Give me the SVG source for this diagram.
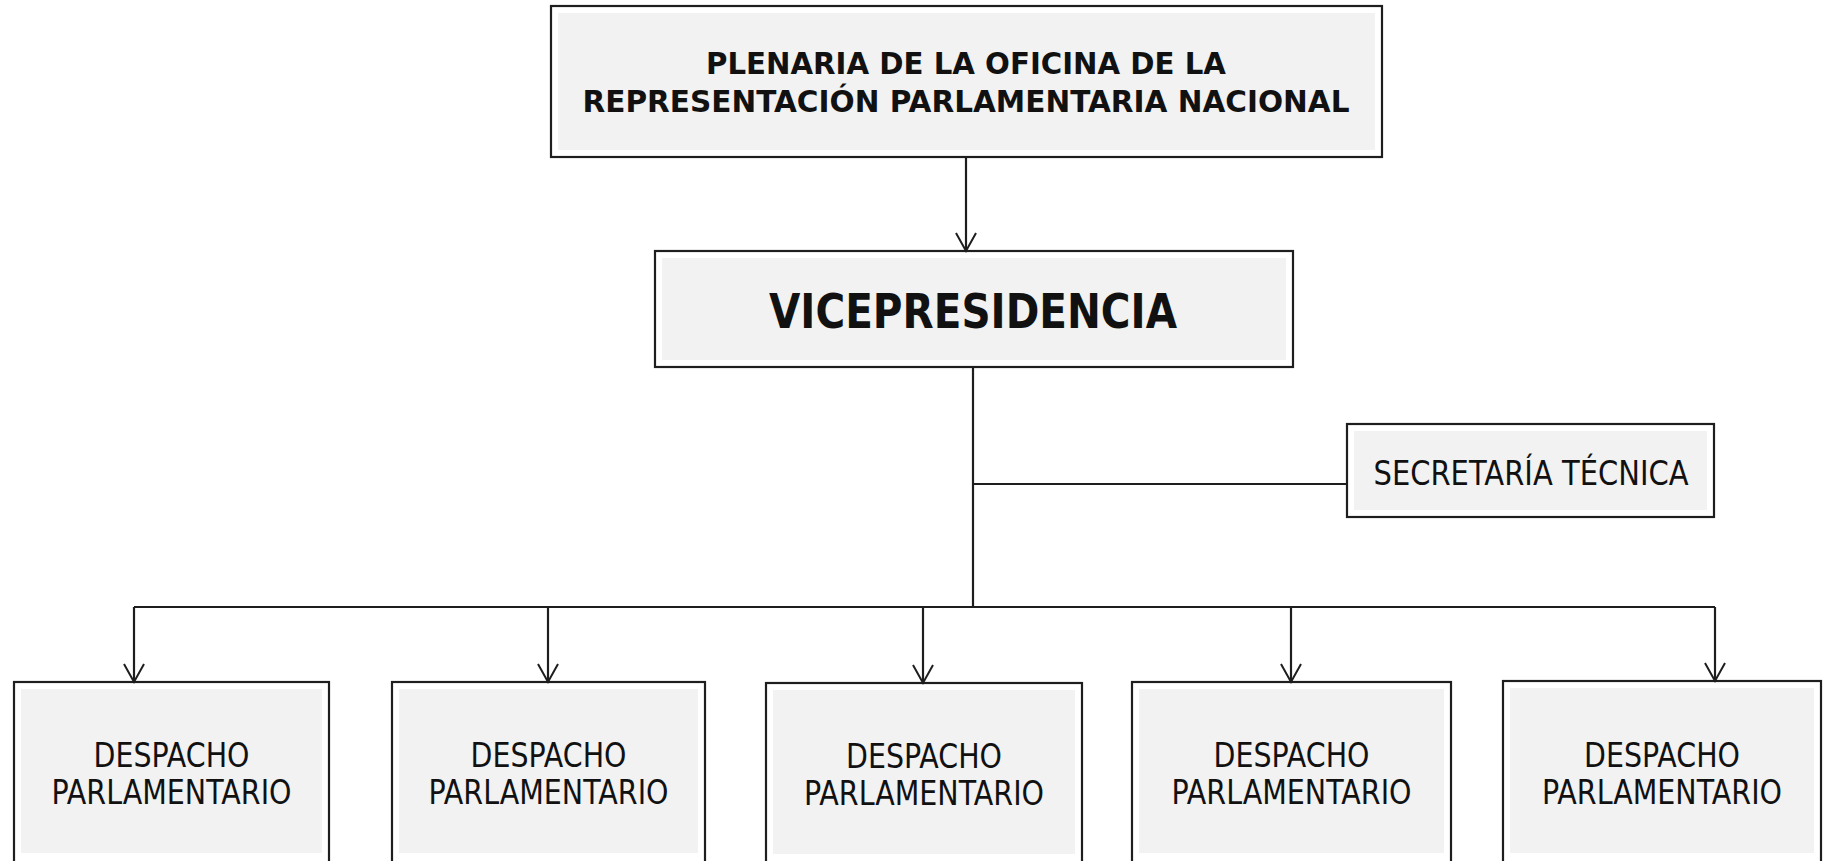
<svg xmlns="http://www.w3.org/2000/svg" width="1828" height="861" viewBox="0 0 1828 861">
<style>
.box{fill:#ffffff;stroke:#1e1e1e;stroke-width:2.2}
.inner{fill:#f2f2f2;stroke:none}
.conn{fill:none;stroke:#1e1e1e;stroke-width:2.2}
.b{font-family:"DejaVu Sans","Liberation Sans",sans-serif;font-weight:bold;fill:#111;text-anchor:middle}
.r{font-family:"DejaVu Sans","Liberation Sans",sans-serif;fill:#111;text-anchor:middle}
</style>
<defs>
<marker id="arr" markerWidth="24" markerHeight="24" refX="20" refY="12" orient="auto" markerUnits="userSpaceOnUse" viewBox="0 0 24 24">
<path d="M2,2 L20,12 L2,22" fill="none" stroke="#1e1e1e" stroke-width="2"/>
</marker>
</defs>
<rect width="1828" height="861" fill="#ffffff"/>
<g id="plenaria">
<rect class="box" x="551" y="6" width="831" height="151"/>
<rect class="inner" x="558" y="13" width="817" height="137"/>
<text class="b" x="966" y="74" font-size="31" textLength="520" lengthAdjust="spacingAndGlyphs">PLENARIA DE LA OFICINA DE LA</text>
<text class="b" x="966" y="112" font-size="31" textLength="767" lengthAdjust="spacingAndGlyphs">REPRESENTACIÓN PARLAMENTARIA NACIONAL</text>
</g>
<g id="vicepresidencia">
<rect class="box" x="655" y="251" width="638" height="116"/>
<rect class="inner" x="662" y="258" width="624" height="102"/>
<text class="b" x="973" y="328" font-size="48" textLength="408" lengthAdjust="spacingAndGlyphs">VICEPRESIDENCIA</text>
</g>
<g id="secretaria">
<rect class="box" x="1347" y="424" width="367" height="93"/>
<rect class="inner" x="1354" y="431" width="353" height="79"/>
<text class="r" x="1531" y="485" font-size="34" textLength="315" lengthAdjust="spacingAndGlyphs">SECRETARÍA TÉCNICA</text>
</g>
<g id="despacho1">
<rect class="box" x="14" y="682" width="315" height="190"/>
<rect class="inner" x="21" y="689" width="301" height="164"/>
<text class="r" x="171.5" y="767" font-size="34" textLength="156" lengthAdjust="spacingAndGlyphs">DESPACHO</text>
<text class="r" x="171.5" y="804" font-size="34" textLength="240" lengthAdjust="spacingAndGlyphs">PARLAMENTARIO</text>
</g>
<g id="despacho2">
<rect class="box" x="392" y="682" width="313" height="190"/>
<rect class="inner" x="399" y="689" width="299" height="164"/>
<text class="r" x="548.5" y="767" font-size="34" textLength="156" lengthAdjust="spacingAndGlyphs">DESPACHO</text>
<text class="r" x="548.5" y="804" font-size="34" textLength="240" lengthAdjust="spacingAndGlyphs">PARLAMENTARIO</text>
</g>
<g id="despacho3">
<rect class="box" x="766" y="683" width="316" height="190"/>
<rect class="inner" x="773" y="690" width="302" height="164"/>
<text class="r" x="924" y="768" font-size="34" textLength="156" lengthAdjust="spacingAndGlyphs">DESPACHO</text>
<text class="r" x="924" y="805" font-size="34" textLength="240" lengthAdjust="spacingAndGlyphs">PARLAMENTARIO</text>
</g>
<g id="despacho4">
<rect class="box" x="1132" y="682" width="319" height="190"/>
<rect class="inner" x="1139" y="689" width="305" height="164"/>
<text class="r" x="1291.5" y="767" font-size="34" textLength="156" lengthAdjust="spacingAndGlyphs">DESPACHO</text>
<text class="r" x="1291.5" y="804" font-size="34" textLength="240" lengthAdjust="spacingAndGlyphs">PARLAMENTARIO</text>
</g>
<g id="despacho5">
<rect class="box" x="1503" y="681" width="318" height="190"/>
<rect class="inner" x="1510" y="688" width="304" height="165"/>
<text class="r" x="1662" y="767" font-size="34" textLength="156" lengthAdjust="spacingAndGlyphs">DESPACHO</text>
<text class="r" x="1662" y="804" font-size="34" textLength="240" lengthAdjust="spacingAndGlyphs">PARLAMENTARIO</text>
</g>
<g id="connectors">
<line class="conn" x1="966" y1="157" x2="966" y2="251" marker-end="url(#arr)"/>
<line class="conn" x1="973" y1="367" x2="973" y2="607"/>
<line class="conn" x1="973" y1="484" x2="1347" y2="484"/>
<polyline class="conn" points="134,607 1715,607"/>
<line class="conn" x1="134" y1="607" x2="134" y2="682" marker-end="url(#arr)"/>
<line class="conn" x1="548" y1="607" x2="548" y2="682" marker-end="url(#arr)"/>
<line class="conn" x1="923" y1="607" x2="923" y2="683" marker-end="url(#arr)"/>
<line class="conn" x1="1291" y1="607" x2="1291" y2="682" marker-end="url(#arr)"/>
<line class="conn" x1="1715" y1="607" x2="1715" y2="681" marker-end="url(#arr)"/>
</g>
</svg>
